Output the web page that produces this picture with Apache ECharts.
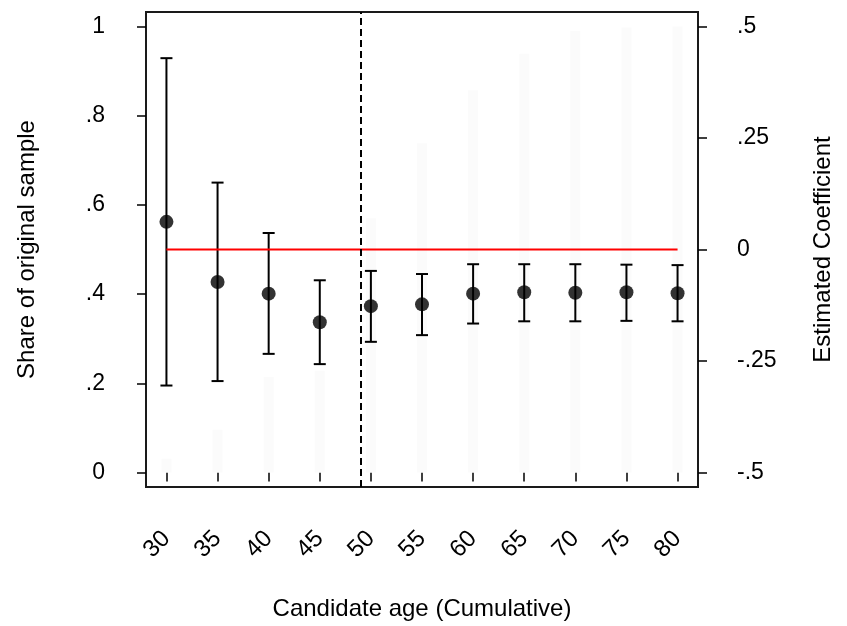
<!DOCTYPE html>
<html>
<head>
<meta charset="utf-8">
<script src="https://cdn.jsdelivr.net/npm/echarts@6/dist/echarts.min.js"></script>
<style>html,body{margin:0;padding:0;background:#fff}#c{width:847px;height:626px}</style>
</head>
<body>
<div id="c"></div>
<script>
// Data
const ages = [30, 35, 40, 45, 50, 55, 60, 65, 70, 75, 80];
const shareOfSample = [0.031, 0.096, 0.214, 0.228, 0.57, 0.738, 0.857, 0.939, 0.99, 0.998, 1.0];
const coefEstimate = [0.062, -0.073, -0.099, -0.163, -0.127, -0.123, -0.099, -0.096, -0.097, -0.096, -0.098];
const ciUpper = [0.429, 0.150, 0.037, -0.069, -0.048, -0.055, -0.033, -0.033, -0.033, -0.034, -0.035];
const ciLower = [-0.305, -0.295, -0.234, -0.257, -0.207, -0.192, -0.166, -0.161, -0.161, -0.160, -0.161];
const cutoffAge = 49;
const xTickValues = [30, 35, 40, 45, 50, 55, 60, 65, 70, 75, 80];
const xTickLabels = ['30', '35', '40', '45', '50', '55', '60', '65', '70', '75', '80'];
const leftTickValues = [0, 0.2, 0.4, 0.6, 0.8, 1];
const leftTickLabels = ['0', '.2', '.4', '.6', '.8', '1'];
const rightTickValues = [-0.5, -0.25, 0, 0.25, 0.5];
const rightTickLabels = ['-.5', '-.25', '0', '.25', '.5'];

function lookup(vals, labels) {
  return function (v) {
    for (let i = 0; i < vals.length; i++) if (Math.abs(vals[i] - v) < 1e-6) return labels[i];
    return '';
  };
}

const font = 'Liberation Sans, Arial, sans-serif';
const chart = echarts.init(document.getElementById('c'), null, { renderer: 'canvas' });

const barData = ages.map((a, i) => [a, shareOfSample[i]]);
const pointData = ages.map((a, i) => [a, coefEstimate[i]]);
const ciData = ages.map((a, i) => [a, ciLower[i], ciUpper[i]]);
const zeroLine = [[ages[0], 0], [ages[ages.length - 1], 0]];

chart.setOption({
  animation: false,
  backgroundColor: '#fff',
  grid: { left: 146, right: 149, top: 12, bottom: 138, show: true, borderColor: '#1a1a1a', borderWidth: 2, backgroundColor: 'transparent' },
  xAxis: {
    type: 'value', min: 28, max: 82,
    name: 'Candidate age (Cumulative)', nameLocation: 'middle', nameGap: 110,
    nameTextStyle: { fontFamily: font, fontSize: 24, color: '#000' },
    axisLine: { show: false },
    splitLine: { show: false },
    axisTick: { show: true, customValues: xTickValues, length: 9, lineStyle: { color: '#000', width: 1.5 } },
    axisLabel: { customValues: xTickValues, formatter: lookup(xTickValues, xTickLabels), rotate: 45, margin: 48, fontFamily: font, fontSize: 24, color: '#000' }
  },
  yAxis: [
    {
      type: 'value', min: -0.0325, max: 1.0325, position: 'left',
      name: 'Share of original sample', nameLocation: 'middle', nameGap: 107, nameRotate: 90,
      nameTextStyle: { fontFamily: font, fontSize: 24, color: '#000' },
      axisLine: { show: false }, splitLine: { show: false },
      axisTick: { show: true, customValues: leftTickValues, length: 9, lineStyle: { color: '#000', width: 1.5 } },
      axisLabel: { customValues: leftTickValues, formatter: lookup(leftTickValues, leftTickLabels), margin: 41, fontFamily: font, fontSize: 23, color: '#000' }
    },
    {
      type: 'value', min: -0.5325, max: 0.5325, position: 'right',
      name: 'Estimated Coefficient', nameLocation: 'middle', nameGap: 113, nameRotate: 90,
      nameTextStyle: { fontFamily: font, fontSize: 24, color: '#000' },
      axisLine: { show: false }, splitLine: { show: false },
      axisTick: { show: true, customValues: rightTickValues, length: 9, lineStyle: { color: '#000', width: 1.5 } },
      axisLabel: { customValues: rightTickValues, formatter: lookup(rightTickValues, rightTickLabels), margin: 39, fontFamily: font, fontSize: 23, color: '#000' }
    }
  ],
  series: [
    {
      type: 'bar', yAxisIndex: 0, data: barData, barWidth: 10,
      itemStyle: { color: '#fbfbfb' }, z: 1,
      markLine: {
        silent: true, symbol: 'none', label: { show: false },
        lineStyle: { color: '#000', type: [7, 4], width: 2 },
        data: [{ xAxis: cutoffAge }]
      }
    },
    {
      type: 'custom', yAxisIndex: 1, data: ciData, z: 3,
      renderItem: function (params, api) {
        const x = api.value(0);
        const lo = api.coord([x, api.value(1)]);
        const hi = api.coord([x, api.value(2)]);
        const hw = 6;
        const st = { stroke: '#000', lineWidth: 2 };
        return {
          type: 'group',
          children: [
            { type: 'line', shape: { x1: lo[0], y1: lo[1], x2: hi[0], y2: hi[1] }, style: st },
            { type: 'line', shape: { x1: lo[0] - hw, y1: lo[1], x2: lo[0] + hw, y2: lo[1] }, style: st },
            { type: 'line', shape: { x1: hi[0] - hw, y1: hi[1], x2: hi[0] + hw, y2: hi[1] }, style: st }
          ]
        };
      }
    },
    {
      type: 'line', yAxisIndex: 1, data: zeroLine, symbol: 'none', z: 4,
      lineStyle: { color: '#ff0000', width: 2 }
    },
    {
      type: 'scatter', yAxisIndex: 1, data: pointData, symbol: 'circle', symbolSize: 14, z: 5,
      itemStyle: { color: '#000' }
    }
  ]
});
</script>
</body>
</html>
